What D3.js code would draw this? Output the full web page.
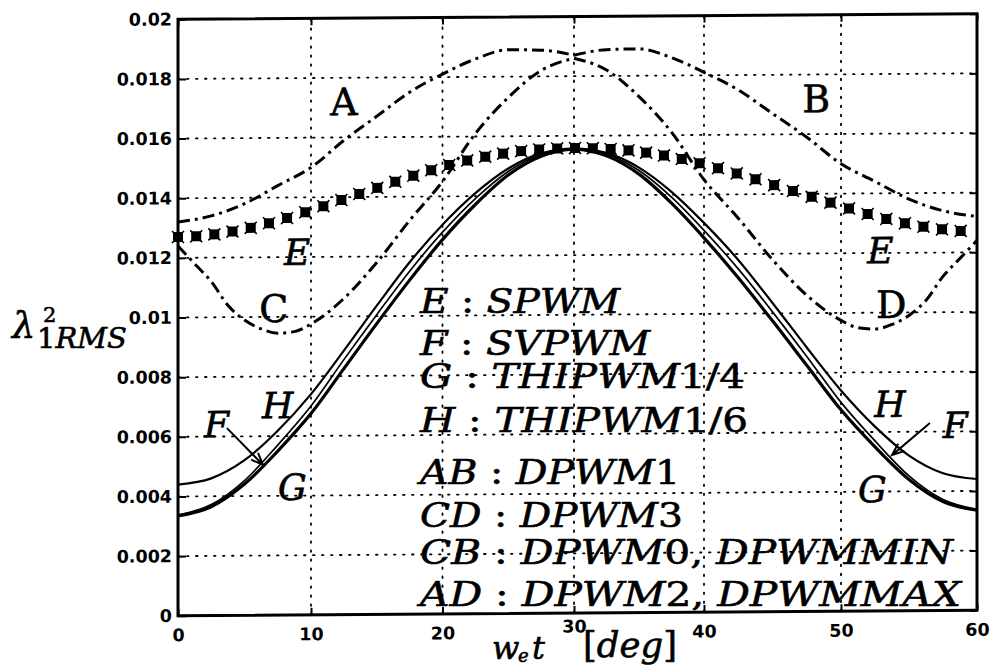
<html>
    <head>
        <meta charset="utf-8">
        <title>RMS current ripple vs angle</title>
        <style>
            body { margin: 0; background: #fff; }
            .tick text { font-family: "DejaVu Sans", sans-serif; font-weight: bold; font-size: 17.5px; }
            .math { font-family: "DejaVu Serif", serif; stroke: #000; stroke-width: 0.6px; }
        </style>
    </head>
    <body>
        <div id="chart"></div>

        <script src="https://d3js.org/d3.v7.min.js"></script>
        <script>
            // ---- data ----
            var xTicks = [0, 10, 20, 30, 40, 50, 60];
            var yTicks = [0, 0.002, 0.004, 0.006, 0.008, 0.01, 0.012, 0.014, 0.016, 0.018, 0.02];
            var yTickLabels = ["0", "0.002", "0.004", "0.006", "0.008", "0.01", "0.012", "0.014", "0.016", "0.018", "0.02"];

            // solid curves F, G, H (0..60 deg, every 2.5 deg)
            var solidAngles = [0, 2.5, 5, 7.5, 10, 12.5, 15, 17.5, 20, 22.5, 25, 27.5, 30,
                               32.5, 35, 37.5, 40, 42.5, 45, 47.5, 50, 52.5, 55, 57.5, 60];
            var svpwm = [0.00338, 0.00372, 0.00452, 0.00570, 0.00700, 0.00855, 0.01005, 0.01150, 0.01280, 0.01392, 0.01482, 0.01538, 0.01556,
                         0.01538, 0.01482, 0.01392, 0.01280, 0.01150, 0.01005, 0.00855, 0.00700, 0.00570, 0.00452, 0.00372, 0.00338];
            var thipwm14 = [0.00335, 0.00365, 0.00440, 0.00550, 0.00675, 0.00825, 0.00975, 0.01120, 0.01255, 0.01372, 0.01470, 0.01532, 0.01555,
                            0.01532, 0.01470, 0.01372, 0.01255, 0.01120, 0.00975, 0.00825, 0.00675, 0.00550, 0.00440, 0.00365, 0.00335];
            var thipwm16 = [0.00440, 0.00460, 0.00520, 0.00618, 0.00740, 0.00885, 0.01035, 0.01180, 0.01305, 0.01410, 0.01492, 0.01542, 0.01557,
                            0.01542, 0.01492, 0.01410, 0.01305, 0.01180, 0.01035, 0.00885, 0.00740, 0.00618, 0.00520, 0.00460, 0.00440];

            // dash-dot DPWM pieces
            var angA = [0, 2.5, 5, 7.5, 10, 12.5, 15, 17.5, 20, 22.5, 25, 27.5, 30];
            var dpwmA = [0.0132, 0.0134, 0.0138, 0.0144, 0.0150, 0.0159, 0.0167, 0.0175, 0.0181, 0.0186, 0.0189, 0.01888, 0.0187];
            var angB = [30, 32.5, 35, 37.5, 40, 42.5, 45, 47.5, 50, 52.5, 55, 57.5, 60];
            var dpwmB = [0.0187, 0.01888, 0.0189, 0.0186, 0.0181, 0.0175, 0.0167, 0.0159, 0.0150, 0.0144, 0.0138, 0.0134, 0.0132];
            var angC = [0, 1.25, 2.5, 3.75, 5, 6.25, 7.5, 8.75, 10, 12.5, 15, 17.5, 20, 22.5, 25, 27.5, 30];
            var dpwmC = [0.0124, 0.0118, 0.0112, 0.0104, 0.0099, 0.0096, 0.00945, 0.0095, 0.00975, 0.0106, 0.0118, 0.0132, 0.0145, 0.0161, 0.0173, 0.0182, 0.0186];
            var angD = [30, 32.5, 35, 37.5, 40, 42.5, 45, 47.5, 50, 51.25, 52.5, 53.75, 55, 56.25, 57.5, 58.75, 60];
            var dpwmD = [0.0186, 0.0182, 0.0173, 0.0161, 0.0145, 0.0132, 0.0118, 0.0106, 0.00975, 0.0095, 0.00945, 0.0096, 0.0099, 0.0104, 0.0112, 0.0118, 0.0124];

            // SPWM markers
            var spwmAngles = [0, 1.37, 2.73, 4.10, 5.47, 6.84, 8.20, 9.57, 10.94, 12.31, 13.67, 15.04, 16.41, 17.78, 19.14,
                              20.51, 21.88, 23.25, 24.61, 25.98, 27.35, 28.72, 30.08, 31.45, 32.82, 34.19, 35.55, 36.92, 38.29,
                              39.66, 41.02, 42.39, 43.76, 45.12, 46.49, 47.86, 49.23, 50.59, 51.96, 53.33, 54.70, 56.06, 57.43, 58.80];
            var spwm = [0.01270, 0.01272, 0.01278, 0.01287, 0.01299, 0.01314, 0.01331, 0.01350, 0.01370, 0.01390, 0.01410, 0.01430,
                        0.01450, 0.01470, 0.01488, 0.01505, 0.01520, 0.01532, 0.01542, 0.01550, 0.01555, 0.01558, 0.01559, 0.01558,
                        0.01555, 0.01550, 0.01542, 0.01532, 0.01520, 0.01505, 0.01488, 0.01470, 0.01450, 0.01430, 0.01410, 0.01390,
                        0.01370, 0.01350, 0.01331, 0.01314, 0.01299, 0.01287, 0.01278, 0.01272];

            // curve labels [text, angle, value, italic]
            var curveLabels = [
                ["A", 12.5, 0.01675, false], ["B", 48.2, 0.01674, false],
                ["C", 7.2, 0.00983, false], ["D", 53.7, 0.00982, false],
                ["E", 8.95, 0.01174, true], ["E", 52.9, 0.01166, true],
                ["H", 7.5, 0.0066, true], ["F", 2.9, 0.00598, true], ["G", 8.6, 0.00386, true],
                ["H", 53.6, 0.0065, true], ["F", 58.4, 0.00578, true], ["G", 52.3, 0.00365, true]
            ];
            // F arrows [fromAngle, fromValue, toAngle, toValue]
            var arrows = [[3.68, 0.00628, 6.39, 0.00504], [56.54, 0.00629, 53.75, 0.00522]];

            var legendText = ["E : SPWM", "F : SVPWM", "G : THIPWM1/4", "H : THIPWM1/6",
                              "AB : DPWM1", "CD : DPWM3", "CB : DPWM0, DPWMMIN", "AD : DPWM2, DPWMMAX"];
            var legendBase = [313, 355, 388, 432, 484, 527, 564, 606];
            var legendWidth = [200, 230, 325, 328, 260, 263, 533, 541];

            // ---- drawing ----
            var svg = d3.select('#chart')
                .append('svg')
                .attr("width", 993)
                .attr("height", 668);

            // the scanned figure is slightly tilted
            var g = svg.append('g')
                .attr('transform', 'translate(577,315) skewY(-0.4) translate(-577,-315)');

            var x = d3.scaleLinear().domain(xTicks).range([178, 311, 442.5, 574, 704, 841, 977]);
            var y = d3.scaleLinear().domain([0, 0.02]).range([613, 16.5]);

            function pairs(a, v) { return a.map(function (d, i) { return [d, v[i]]; }); }

            // grid
            g.selectAll('.gx').data(xTicks.slice(1, -1)).enter().append('line')
                .attr('x1', function (d) { return x(d); }).attr('x2', function (d) { return x(d); })
                .attr('y1', y(0)).attr('y2', y(0.02))
                .attr('stroke', '#000').attr('stroke-width', 1.8)
                .attr('stroke-dasharray', '1.5,7.5').attr('stroke-linecap', 'round');
            g.selectAll('.gy').data(yTicks.slice(1, -1)).enter().append('line')
                .attr('y1', function (d) { return y(d); }).attr('y2', function (d) { return y(d); })
                .attr('x1', x(0)).attr('x2', x(60))
                .attr('stroke', '#000').attr('stroke-width', 1.8)
                .attr('stroke-dasharray', '1.5,7.5').attr('stroke-linecap', 'round');

            var line = d3.line()
                .x(function (d) { return x(d[0]); })
                .y(function (d) { return y(d[1]); })
                .curve(d3.curveMonotoneX);

            // DPWM dash-dot curves
            [[angA, dpwmA], [angB, dpwmB], [angC, dpwmC], [angD, dpwmD]].forEach(function (s) {
                g.append('path')
                    .attr('d', line(pairs(s[0], s[1])))
                    .attr('fill', 'none').attr('stroke', '#000')
                    .attr('stroke-width', 3)
                    .attr('stroke-dasharray', '12,5,3,5');
            });

            // solid curves
            g.append('path').attr('d', line(pairs(solidAngles, thipwm16)))
                .attr('fill', 'none').attr('stroke', '#000').attr('stroke-width', 2.2);
            g.append('path').attr('d', line(pairs(solidAngles, svpwm)))
                .attr('fill', 'none').attr('stroke', '#000').attr('stroke-width', 1.7);
            g.append('path').attr('d', line(pairs(solidAngles, thipwm14)))
                .attr('fill', 'none').attr('stroke', '#000').attr('stroke-width', 3.2);

            // SPWM markers
            var mk = g.selectAll('.mk').data(pairs(spwmAngles, spwm)).enter().append('g')
                .attr('transform', function (d) { return 'translate(' + x(d[0]) + ',' + y(d[1]) + ')'; });
            mk.append('rect').attr('x', -5).attr('y', -5).attr('width', 10).attr('height', 10).attr('fill', '#000');
            mk.append('path').attr('d', 'M-6,-6L6,6M-6,6L6,-6')
                .attr('stroke', '#000').attr('stroke-width', 1.6);

            // axes with inward ticks
            g.append('g').attr('transform', 'translate(' + x(0) + ',0)')
                .call(d3.axisLeft(y).tickValues(yTicks).tickSize(-8).tickPadding(6)
                    .tickFormat(function (d, i) { return yTickLabels[i]; }));
            g.append('g').attr('transform', 'translate(' + x(60) + ',0)')
                .call(d3.axisRight(y).tickValues(yTicks).tickSize(-7).tickFormat(''));
            g.append('g').attr('transform', 'translate(0,' + y(0.02) + ')')
                .call(d3.axisTop(x).tickValues(xTicks).tickSize(-7).tickFormat(''));
            var bx = g.append('g').attr('transform', 'translate(0,' + y(0) + ')')
                .call(d3.axisBottom(x).tickValues(xTicks).tickSize(-7).tickPadding(13));
            bx.selectAll('.tick text').filter(function (d) { return d === 30; }).attr('y', 7);
            g.selectAll('.domain').remove();
            g.selectAll('.tick line').attr('stroke-width', 2);

            // frame
            g.append('rect')
                .attr('x', x(0)).attr('y', y(0.02))
                .attr('width', x(60) - x(0)).attr('height', y(0) - y(0.02))
                .attr('fill', 'none').attr('stroke', '#000').attr('stroke-width', 3);

            // curve labels
            g.selectAll('.lbl').data(curveLabels).enter().append('text')
                .attr('class', 'math')
                .attr('x', function (d) { return x(d[1]); })
                .attr('y', function (d) { return y(d[2]); })
                .attr('text-anchor', 'middle')
                .attr('font-size', function (d) { return d[3] ? 36 : 38; })
                .attr('font-style', function (d) { return d[3] ? 'italic' : 'normal'; })
                .text(function (d) { return d[0]; });

            // F arrows
            arrows.forEach(function (a) {
                var x1 = x(a[0]), y1 = y(a[1]), x2 = x(a[2]), y2 = y(a[3]);
                var ang = Math.atan2(y2 - y1, x2 - x1), L = 13, sp = 0.38;
                g.append('path')
                    .attr('d', 'M' + x1 + ',' + y1 + 'L' + x2 + ',' + y2 +
                        'M' + (x2 - L * Math.cos(ang - sp)) + ',' + (y2 - L * Math.sin(ang - sp)) +
                        'L' + x2 + ',' + y2 +
                        'L' + (x2 - L * Math.cos(ang + sp)) + ',' + (y2 - L * Math.sin(ang + sp)))
                    .attr('fill', 'none').attr('stroke', '#000').attr('stroke-width', 2);
            });

            // math-style text: letters italic, digits and punctuation upright
            function mathText(sel, str) {
                str.match(/[A-Za-z]+|[^A-Za-z]+/g).forEach(function (part) {
                    sel.append('tspan')
                        .attr('font-style', /[A-Za-z]/.test(part) ? 'italic' : 'normal')
                        .text(part);
                });
            }

            // legend
            legendText.forEach(function (t, i) {
                var tx = svg.append('text').attr('class', 'math')
                    .attr('x', 420).attr('y', legendBase[i])
                    .attr('font-size', 34)
                    .attr('textLength', legendWidth[i]).attr('lengthAdjust', 'spacingAndGlyphs')
                    .attr('xml:space', 'preserve');
                mathText(tx, t);
            });

            // y label
            svg.append('text').attr('class', 'math').attr('x', 12).attr('y', 338)
                .attr('font-size', 37).attr('font-style', 'italic').text('\u03bb');
            svg.append('text').attr('class', 'math').attr('x', 43).attr('y', 322)
                .attr('font-size', 21).text('2');
            var ys = svg.append('text').attr('class', 'math').attr('x', 37).attr('y', 348)
                .attr('font-size', 28).attr('textLength', 90).attr('lengthAdjust', 'spacingAndGlyphs');
            mathText(ys, '1RMS');

            // x label
            svg.append('text').attr('class', 'math').attr('x', 492).attr('y', 659)
                .attr('font-size', 32).attr('font-style', 'italic').text('w');
            svg.append('text').attr('class', 'math').attr('x', 518).attr('y', 662)
                .attr('font-size', 18).attr('font-style', 'italic').text('e');
            svg.append('text').attr('class', 'math').attr('x', 532).attr('y', 659)
                .attr('font-size', 32).attr('font-style', 'italic').text('t');
            var xs = svg.append('text').attr('class', 'math').attr('x', 583).attr('y', 657)
                .attr('font-size', 36).attr('textLength', 94).attr('lengthAdjust', 'spacingAndGlyphs');
            mathText(xs, '[deg]');
        </script>
    </body>
</html>
